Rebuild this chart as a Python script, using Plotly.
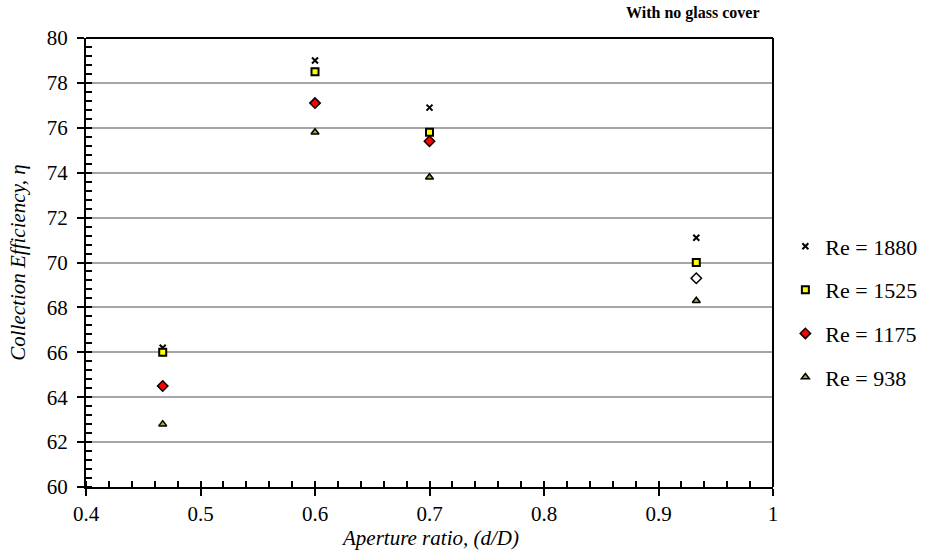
import plotly.graph_objects as go

# Aperture ratio (d/D) at which collection efficiency was measured
aperture_ratio = [0.467, 0.6, 0.7, 0.933]

# Collection efficiency (%) for each Reynolds number
eff_re1880 = [66.2, 79.0, 76.9, 71.1]
eff_re1525 = [66.0, 78.5, 75.8, 70.0]
eff_re1175 = [64.5, 77.1, 75.4, 69.3]
eff_re938 = [62.8, 75.8, 73.8, 68.3]

series_names = ["Re = 1880", "Re = 1525", "Re = 1175", "Re = 938"]

FONT = "Liberation Serif, Times New Roman, serif"

fig = go.Figure()

fig.add_trace(go.Scatter(
    x=aperture_ratio, y=eff_re1880, mode="markers", name=series_names[0],
    legendgroup="a",
    marker=dict(symbol="x-thin", size=6, color="black",
                line=dict(color="black", width=2)),
))
fig.add_trace(go.Scatter(
    x=aperture_ratio, y=eff_re1525, mode="markers", name=series_names[1],
    legendgroup="b",
    marker=dict(symbol="square", size=7, color="#ffff00",
                line=dict(color="black", width=2)),
))
fig.add_trace(go.Scatter(
    x=aperture_ratio, y=eff_re1175, mode="markers", name=series_names[2],
    legendgroup="c",
    marker=dict(symbol="diamond", size=8,
                color=["#ff0000", "#ff0000", "#ff0000", "#ffffff"],
                line=dict(color="black", width=1.5)),
))
fig.add_trace(go.Scatter(
    x=aperture_ratio, y=eff_re938, mode="markers", name=series_names[3],
    legendgroup="d",
    marker=dict(symbol="triangle-up", size=7, color="#8cb83a",
                line=dict(color="black", width=1.5)),
))

axis_common = dict(
    showline=True, linecolor="black", linewidth=2, mirror=False,
    ticks="outside", ticklen=7, tickwidth=2, tickcolor="black",
    tickfont=dict(family=FONT, size=21, color="black"),
    zeroline=False, automargin=False,
)

fig.update_xaxes(
    range=[0.4, 1.0], showgrid=False,
    tickvals=[0.4, 0.5, 0.6, 0.7, 0.8, 0.9, 1.0],
    ticktext=["0.4", "0.5", "0.6", "0.7", "0.8", "0.9", "1"],
    minor=dict(ticks="inside", ticklen=6, tickwidth=1.5, tickcolor="black",
               dtick=0.02, tick0=0.4, showgrid=False),
    **axis_common,
)
fig.update_yaxes(
    range=[60, 80], dtick=2, tick0=60,
    showgrid=True, gridcolor="#a6a6a6", gridwidth=1.5,
    ticklabelstandoff=5,
    minor=dict(ticks="inside", ticklen=6, tickwidth=1.5, tickcolor="black",
               dtick=0.4, tick0=60, showgrid=False),
    title=dict(text="<i>Collection Efficiency, η</i>",
               font=dict(family=FONT, size=21, color="black")),
    **axis_common,
)

# x-axis title placed under the tick labels
fig.add_annotation(
    text="<i>Aperture ratio, (d/D)</i>", xref="paper", yref="paper",
    x=0.5, y=0, yshift=-51, yanchor="middle", xanchor="center",
    showarrow=False, font=dict(family=FONT, size=21, color="black"),
)

# box lines on top and right of the plotting area
fig.add_shape(type="line", xref="paper", yref="paper", x0=0, x1=1, y0=1, y1=1,
              line=dict(color="black", width=2))
fig.add_shape(type="line", xref="paper", yref="paper", x0=1, x1=1, y0=0, y1=1,
              line=dict(color="black", width=2))

fig.add_annotation(
    text="<b>With no glass cover</b>", xref="paper", yref="paper",
    x=0.883, y=1.0, yshift=14, yanchor="bottom", xanchor="center",
    showarrow=False, font=dict(family=FONT, size=16, color="black"),
)

fig.update_layout(
    width=939, height=550,
    margin=dict(l=86, r=166, t=38, b=63),
    plot_bgcolor="white", paper_bgcolor="white",
    font=dict(family=FONT, color="black"),
    legend=dict(
        x=1.018, y=0.39, xanchor="left", yanchor="middle",
        font=dict(family=FONT, size=22, color="black"),
        tracegroupgap=12, itemwidth=30, bgcolor="rgba(0,0,0,0)",
    ),
)

fig.write_html("out.html")
